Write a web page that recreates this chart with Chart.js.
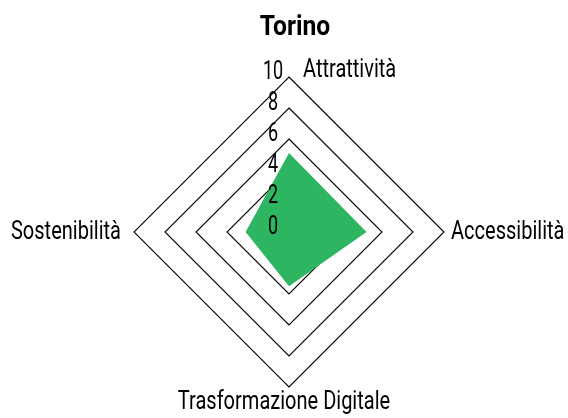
<!DOCTYPE html>
<html>
<head>
    <title>Torino</title>
    <script src="https://cdn.jsdelivr.net/npm/chart.js"></script>
    <style>
        body { margin: 0; background: #fff; }
    </style>
</head>
<body>
    <canvas id="radarChart" width="568" height="418"></canvas>

    <script>
        // data
        const categories = ["Attrattività", "Accessibilità", "Trasformazione Digitale", "Sostenibilità"];
        const torinoValues = [5.1, 5.0, 3.5, 2.8];
        const tickValues = [0, 2, 4, 6, 8, 10];
        const chartTitle = "Torino";

        const FONT = "Roboto, sans-serif";

        // the reference uses a condensed face, so squeeze Roboto sideways
        function narrowText(ctx, text, x, y, align, baseline, font, squeeze) {
            ctx.save();
            ctx.translate(x, y);
            ctx.scale(squeeze, 1);
            ctx.font = font;
            ctx.textAlign = align;
            ctx.textBaseline = baseline;
            ctx.fillText(text, 0, 0);
            ctx.restore();
        }

        // draws title, tick numbers and axis names next to the scale
        const labelPlugin = {
            id: "labelPlugin",
            afterDraw(chart) {
                const scale = chart.scales.r;
                const ctx = chart.ctx;
                ctx.save();
                ctx.fillStyle = "#000";

                narrowText(ctx, chartTitle, scale.xCenter + 6, 28, "center", "middle", "bold 28px " + FONT, 0.88);

                tickValues.forEach(v => {
                    const d = scale.getDistanceFromCenterForValue(v);
                    narrowText(ctx, String(v), scale.xCenter - 16, scale.yCenter - d - 4, "center", "middle", "25px " + FONT, 0.72);
                });

                const f = "26px " + FONT;
                const sq = 0.77;
                categories.forEach((name, i) => {
                    const p = scale.getPointPositionForValue(i, scale.max);
                    if (i === 0) {
                        narrowText(ctx, name, p.x + 14, p.y - 7, "left", "middle", f, sq);
                    } else if (i === 1) {
                        narrowText(ctx, name, p.x + 7, p.y, "left", "middle", f, sq);
                    } else if (i === 2) {
                        narrowText(ctx, name, p.x - 5, p.y + 2, "center", "top", f, sq);
                    } else {
                        narrowText(ctx, name, p.x - 13, p.y, "right", "middle", f, sq);
                    }
                });
                ctx.restore();
            }
        };

        const ctx = document.getElementById("radarChart").getContext("2d");
        const myChart = new Chart(ctx, {
            type: "radar",
            data: {
                labels: categories,
                datasets: [
                    {
                        label: chartTitle,
                        data: torinoValues,
                        backgroundColor: "#2db562",
                        borderWidth: 0,
                        pointRadius: 0,
                        fill: true,
                    },
                ],
            },
            options: {
                responsive: false,
                animation: false,
                layout: {
                    padding: { top: 77, left: 134, right: 124, bottom: 31 },
                },
                plugins: {
                    legend: { display: false },
                    tooltip: { enabled: false },
                    title: { display: false },
                },
                scales: {
                    r: {
                        min: 0,
                        max: 10,
                        ticks: { stepSize: 2, display: false },
                        grid: { color: "#000", lineWidth: 1.1 },
                        angleLines: { display: false },
                        pointLabels: { display: false },
                    },
                },
            },
            plugins: [labelPlugin],
        });
    </script>
</body>
</html>
